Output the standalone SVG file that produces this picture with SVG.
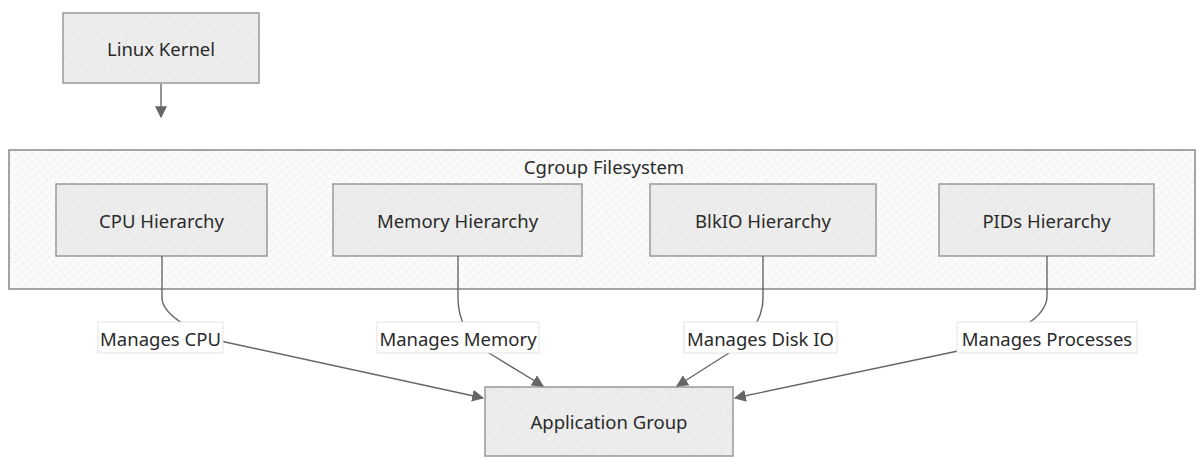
<svg xmlns="http://www.w3.org/2000/svg" width="1197" height="458" viewBox="0 0 1197 458">
<defs>
<pattern id="hatch" patternUnits="userSpaceOnUse" width="9" height="9" patternTransform="rotate(40)">
<rect width="9" height="9" fill="#ebebeb"/>
<line x1="0" y1="0" x2="0" y2="9" stroke="#f8f8f8" stroke-width="1.2"/>
</pattern>
<pattern id="chatch" patternUnits="userSpaceOnUse" width="6" height="6" patternTransform="rotate(50)">
<rect width="6" height="6" fill="#fafafa"/>
<line x1="0" y1="0" x2="0" y2="6" stroke="#d4d4d4" stroke-width="0.8" stroke-dasharray="3 3"/>
</pattern>
<marker id="arr" markerUnits="userSpaceOnUse" markerWidth="12" markerHeight="12" viewBox="0 0 10 10" refX="9" refY="5" orient="auto">
<path d="M0,0 L10,5 L0,10 z" fill="#666"/>
</marker>
</defs>
<style>
.node rect{fill:url(#hatch);stroke:#999;stroke-width:1.5}
.cluster rect{fill:url(#chatch);stroke:#888;stroke-width:1.5}
text{font-family:"Noto Sans","Liberation Sans",sans-serif;font-size:18.5px;fill:#2a2a2a;text-anchor:middle;dominant-baseline:central}
.edge{fill:none;stroke:#666;stroke-width:1.4}
.lbl rect{fill:#fff;stroke:#ddd;stroke-width:0.8}
</style>
<g id="cluster-cgroup" class="cluster">
<rect x="9" y="150" width="1186" height="139"/>
<text x="604" y="166">Cgroup Filesystem</text>
</g>
<g id="node-linux-kernel" class="node">
<rect x="63" y="13" width="196" height="70"/>
<text x="161" y="48">Linux Kernel</text>
</g>
<g id="node-cpu" class="node">
<rect x="56" y="184" width="211" height="72"/>
<text x="161.5" y="220">CPU Hierarchy</text>
</g>
<g id="node-memory" class="node">
<rect x="333" y="184" width="249" height="72"/>
<text x="457.5" y="220">Memory Hierarchy</text>
</g>
<g id="node-blkio" class="node">
<rect x="650" y="184" width="226" height="72"/>
<text x="763" y="220">BlkIO Hierarchy</text>
</g>
<g id="node-pids" class="node">
<rect x="939" y="184" width="215" height="72"/>
<text x="1046.5" y="220">PIDs Hierarchy</text>
</g>
<g id="node-app" class="node">
<rect x="485" y="387" width="248" height="69"/>
<text x="609" y="421">Application Group</text>
</g>
<g id="connectors">
<path class="edge" d="M161,84 V117" marker-end="url(#arr)"/>
<path class="edge" d="M162,256 V298 C162,316 200,336 225,342 L483,398" marker-end="url(#arr)"/>
<path class="edge" d="M458,256 V298 C458,322 470,340 489,353 L543,386" marker-end="url(#arr)"/>
<path class="edge" d="M763,256 V298 C763,322 745,342 729,353 L677,386" marker-end="url(#arr)"/>
<path class="edge" d="M1047,256 V296 C1047,322 1000,340 958,351 L735,398" marker-end="url(#arr)"/>
</g>
<g id="edge-labels">
<g class="lbl"><rect x="98" y="322" width="125" height="31"/><text x="160.5" y="338">Manages CPU</text></g>
<g class="lbl"><rect x="377" y="322" width="162" height="31"/><text x="458" y="338">Manages Memory</text></g>
<g class="lbl"><rect x="684" y="322" width="153" height="31"/><text x="760.5" y="338">Manages Disk IO</text></g>
<g class="lbl"><rect x="957" y="322" width="180" height="31"/><text x="1047" y="338">Manages Processes</text></g>
</g>
</svg>
